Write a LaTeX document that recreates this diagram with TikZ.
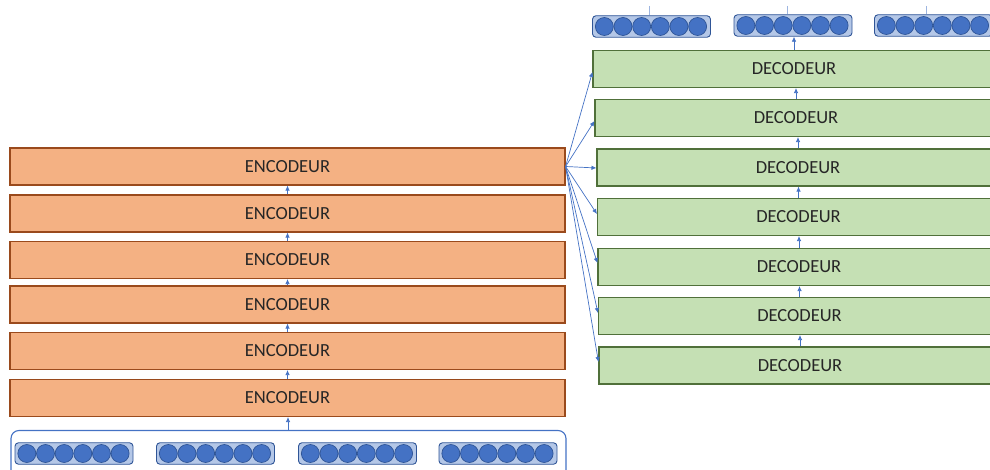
\documentclass[tikz,border=0pt]{standalone}
\usepackage{fontspec}
\setmainfont{Carlito}
\usetikzlibrary{arrows.meta,calc}

\definecolor{encfill}{HTML}{F4B183}
\definecolor{encline}{HTML}{9A4A1C}
\definecolor{decfill}{HTML}{C5E0B4}
\definecolor{decline}{HTML}{50703A}
\definecolor{vecfill}{HTML}{B4C7E7}
\definecolor{vecline}{HTML}{2F5597}
\definecolor{cellfill}{HTML}{4472C4}
\definecolor{flowcol}{HTML}{4472C4}
\definecolor{tailcol}{HTML}{9DB5E0}
\definecolor{labelcol}{HTML}{262626}

\tikzset{
  layerbox/.style={rectangle, inner sep=0pt, line width=1.1pt, minimum height=37pt,
    text=labelcol, font=\fontsize{18.5}{20}\selectfont},
  encbox/.style={layerbox, fill=encfill, draw=encline, minimum width=555pt},
  decbox/.style={layerbox, fill=decfill, draw=decline, minimum width=402pt},
  vecbox/.style={rectangle, rounded corners=3.5pt, fill=vecfill, draw=vecline,
    line width=0.9pt, minimum width=118pt, minimum height=21.5pt, inner sep=0pt},
  cell/.style={circle, fill=cellfill, draw=vecline, line width=0.7pt,
    minimum size=18pt, inner sep=0pt},
  flow/.style={draw=flowcol, line width=0.7pt, -{Latex[length=5pt,width=4.5pt]}},
  tail/.style={draw=tailcol, line width=0.9pt},
  holder/.style={draw=flowcol, line width=1.1pt, rounded corners=8pt}
}

% six cells in a row inside a vector node
\newcommand\vectorcells[1]{%
  \foreach \k in {0,...,5}
    \node[cell] (#1-\k) at ($(#1.west)+(12.3+\k*18.65,0)$) {};%
}

\begin{document}
\begin{tikzpicture}[x=1pt,y=-1pt]
\useasboundingbox (0,0) rectangle (990,470);
\clip (0,0) rectangle (990,470);

% encoder stack, enc1 at the bottom
\node[encbox] (enc1) at (287.5,398) {ENCODEUR};
\node[encbox] (enc2) at (287.5,351) {ENCODEUR};
\node[encbox] (enc3) at (287.5,304.5) {ENCODEUR};
\node[encbox] (enc4) at (287.5,260) {ENCODEUR};
\node[encbox] (enc5) at (287.5,213.5) {ENCODEUR};
\node[encbox] (enc6) at (287.5,166.5) {ENCODEUR};

% decoder stack, dec1 at the top
\node[decbox] (dec1) at (794,69) {DECODEUR};
\node[decbox] (dec2) at (796,118) {DECODEUR};
\node[decbox] (dec3) at (798,167.5) {DECODEUR};
\node[decbox] (dec4) at (798.5,217) {DECODEUR};
\node[decbox] (dec5) at (799,267) {DECODEUR};
\node[decbox] (dec6) at (799.5,316) {DECODEUR};
\node[decbox] (dec7) at (800,365.5) {DECODEUR};

% input holder and input vectors
\draw[holder] (11,490) -- (11,430.5) -- (566,430.5) -- (566,490);
\coordinate (holdtop) at (288,430.5);
\node[vecbox] (in1) at (74,453.5) {};
\node[vecbox] (in2) at (215.5,453.5) {};
\node[vecbox] (in3) at (357.5,453.5) {};
\node[vecbox] (in4) at (498,453.5) {};
\vectorcells{in1}\vectorcells{in2}\vectorcells{in3}\vectorcells{in4}

% output vectors
\node[vecbox] (out1) at (651.5,26.5) {};
\node[vecbox] (out2) at (793,25.5) {};
\node[vecbox] (out3) at (933.5,25.5) {};
\vectorcells{out1}\vectorcells{out2}\vectorcells{out3}
\coordinate (t1) at (649,6);
\coordinate (t2) at (787,6);
\coordinate (t3) at (926,6);
\draw[tail] (t1) -- (t1 |- out1.north);
\draw[tail] (t2) -- (t2 |- out2.north);
\draw[tail] (t3) -- (t3 |- out3.north);

% upward flow through the encoders
\draw[flow] (holdtop) -- (holdtop |- enc1.south);
\draw[flow] (enc1.north) -- (enc2.south);
\draw[flow] (enc2.north) -- (enc3.south);
\draw[flow] (enc3.north) -- (enc4.south);
\draw[flow] (enc4.north) -- (enc5.south);
\draw[flow] (enc5.north) -- (enc6.south);

% upward flow through the decoders
\draw[flow] (dec7.north) -- (dec7.north |- dec6.south);
\draw[flow] (dec6.north) -- (dec6.north |- dec5.south);
\draw[flow] (dec5.north) -- (dec5.north |- dec4.south);
\draw[flow] (dec4.north) -- (dec4.north |- dec3.south);
\draw[flow] (dec3.north) -- (dec3.north |- dec2.south);
\draw[flow] (dec2.north) -- (dec2.north |- dec1.south);
\draw[flow] (dec1.north) -- (dec1.north |- out2.south);

% encoder output fed to every decoder
\foreach \d/\dy in {1/3,2/3,3/0.5,4/-3,5/-4,6/-3,7/-3.5}
  \draw[flow] (enc6.east) -- ($(dec\d.west)+(0,\dy)$);
\end{tikzpicture}
\end{document}
